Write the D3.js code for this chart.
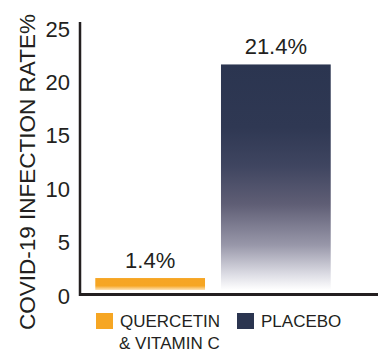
<!DOCTYPE html>
<html>
<head>
<meta charset="utf-8">
<script src="https://cdn.jsdelivr.net/npm/d3@7"></script>
<style>
  body { margin: 0; background: #fff; }
  text { font-family: "Liberation Sans", Arial, sans-serif; fill: #231f20; }
</style>
</head>
<body>
<div id="chart"></div>
<script>
// data
const groups = ["QUERCETIN\n& VITAMIN C", "PLACEBO"];
const rates = [1.4, 21.4];
const valueLabels = ["1.4%", "21.4%"];
const yTicks = [0, 5, 10, 15, 20, 25];
const barColors = ["#f6a623", "#2b3550"];

const width = 389, height = 357;

const svg = d3.select("#chart")
    .append("svg")
    .attr("width", width)
    .attr("height", height);

// scales
const x = d3.scaleBand()
    .domain(groups)
    .range([89, 337])
    .paddingInner(0.127)
    .paddingOuter(0.05);

const y = d3.scaleLinear()
    .domain([0, 25])
    .range([293, 26]);

// gradients for the bars
const defs = svg.append("defs");

const gOrange = defs.append("linearGradient")
    .attr("id", "grad0")
    .attr("x1", 0).attr("y1", 0).attr("x2", 0).attr("y2", 1);
gOrange.append("stop").attr("offset", 0).attr("stop-color", "#f6a523");
gOrange.append("stop").attr("offset", 0.65).attr("stop-color", "#f6a623");
gOrange.append("stop").attr("offset", 1).attr("stop-color", "#fde3b8");

const gNavy = defs.append("linearGradient")
    .attr("id", "grad1")
    .attr("x1", 0).attr("y1", 0).attr("x2", 0).attr("y2", 1);
[[0, "#2b3550"], [0.28, "#2f3853"], [0.45, "#3f4560"], [0.62, "#5f5e75"],
 [0.8, "#9897a9"], [0.93, "#dcdce4"], [1, "#ffffff"]].forEach(s => {
    gNavy.append("stop").attr("offset", s[0]).attr("stop-color", s[1]);
});

// y axis ticks (labels only)
const yAxis = d3.axisLeft(y).tickValues(yTicks).tickSize(0).tickPadding(0);
const yAxisGroup = svg.append("g")
    .attr("transform", "translate(70,3)")
    .call(yAxis);
yAxisGroup.select(".domain").remove();
yAxisGroup.selectAll("text")
    .attr("font-size", "22px")
    .attr("font-family", "Liberation Sans, Arial, sans-serif")
    .attr("fill", "#231f20");

// bars
svg.selectAll(".bar")
    .data(rates)
    .enter().append("rect")
    .attr("class", "bar")
    .attr("x", (d, i) => x(groups[i]))
    .attr("y", d => y(d))
    .attr("width", x.bandwidth())
    .attr("height", d => y(0) - 3 - y(d))
    .attr("fill", (d, i) => `url(#grad${i})`);

// value labels
svg.selectAll(".value-label")
    .data(rates)
    .enter().append("text")
    .attr("class", "value-label")
    .attr("x", (d, i) => x(groups[i]) + x.bandwidth() / 2)
    .attr("y", d => y(d) - 10)
    .attr("text-anchor", "middle")
    .attr("font-size", "22px")
    .text((d, i) => valueLabels[i]);

// axis lines
svg.append("line")
    .attr("x1", 80).attr("x2", 80)
    .attr("y1", 22).attr("y2", 296)
    .attr("stroke", "#231f20")
    .attr("stroke-width", 2.5);

svg.append("line")
    .attr("x1", 79).attr("x2", 378)
    .attr("y1", y(0) + 1.5).attr("y2", y(0) + 1.5)
    .attr("stroke", "#231f20")
    .attr("stroke-width", 3);

// y axis title
svg.append("text")
    .attr("transform", "rotate(-90)")
    .attr("x", -172)
    .attr("y", 35)
    .attr("text-anchor", "middle")
    .attr("font-size", "22.5px")
    .text("COVID-19 INFECTION RATE%");

// legend
const legendX = [96, 237];
const legend = svg.selectAll(".legend")
    .data(groups)
    .enter().append("g")
    .attr("class", "legend")
    .attr("transform", (d, i) => `translate(${legendX[i]},313)`);

legend.append("rect")
    .attr("width", 17)
    .attr("height", 16)
    .attr("fill", (d, i) => barColors[i]);

legend.each(function(d) {
    const t = d3.select(this).append("text")
        .attr("x", 24)
        .attr("y", 14)
        .attr("font-size", "17px");
    d.split("\n").forEach((line, j) => {
        t.append("tspan")
            .attr("x", j === 0 ? 24 : 23)
            .attr("dy", j === 0 ? 0 : 22)
            .text(line);
    });
});
</script>
</body>
</html>
